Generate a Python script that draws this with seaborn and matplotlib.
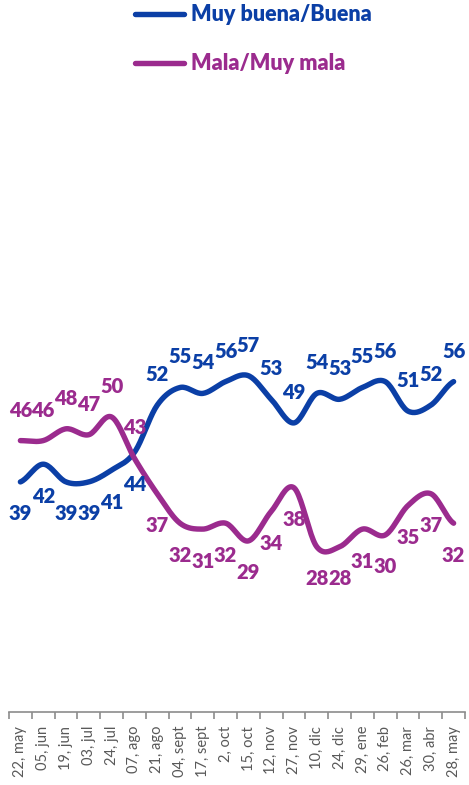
import matplotlib.pyplot as plt
import numpy as np
import pandas as pd
import seaborn as sns

fechas = ["22, may", "05, jun", "19, jun", "03, jul", "24, jul", "07, ago", "21, ago",
          "04, sept", "17, sept", "2, oct", "15, oct", "12, nov", "27, nov", "10, dic",
          "24, dic", "29, ene", "26, feb", "26, mar", "30, abr", "28, may"]
buena = [39, 42, 39, 39, 41, 44, 52, 55, 54, 56, 57, 53, 49, 54, 53, 55, 56, 51, 52, 56]
mala = [46, 46, 48, 47, 50, 43, 37, 32, 31, 32, 29, 34, 38, 28, 28, 31, 30, 35, 37, 32]

AZUL = "#0B3FA6"
MORADO = "#9B2B8E"


def suavizar(vals, n=20):
    # catmull-rom so the line looks like excel's smoothed line
    p = np.array(vals, dtype=float)
    p = np.concatenate([[p[0]], p, [p[-1]]])
    xs, ys = [], []
    for i in range(1, len(p) - 2):
        t = np.linspace(0, 1, n, endpoint=False)
        p0, p1, p2, p3 = p[i - 1], p[i], p[i + 1], p[i + 2]
        y = 0.5 * ((2 * p1) + (-p0 + p2) * t + (2 * p0 - 5 * p1 + 4 * p2 - p3) * t ** 2
                   + (-p0 + 3 * p1 - 3 * p2 + p3) * t ** 3)
        xs.extend(i - 1 + t)
        ys.extend(y)
    xs.append(len(vals) - 1)
    ys.append(vals[-1])
    return xs, ys


sns.set_theme(style="white")
plt.rcParams["font.family"] = ["Lato", "DejaVu Sans"]

fig = plt.figure(figsize=(4.69, 7.85), dpi=100)
ax = fig.add_axes([9 / 469, 73 / 785, 456 / 469, 590 / 785])

for vals, nombre, color in [(buena, "Muy buena/Buena", AZUL), (mala, "Mala/Muy mala", MORADO)]:
    xs, ys = suavizar(vals)
    df = pd.DataFrame({"x": xs, "y": ys})
    sns.lineplot(data=df, x="x", y="y", ax=ax, color=color, linewidth=3.9,
                 label=nombre, solid_capstyle="round")

# etiquetas de datos
for i, (b, m) in enumerate(zip(buena, mala)):
    arriba_b = i >= 6
    ax.annotate(str(b), (i, b), xytext=(0, 22 if arriba_b else -23), textcoords="offset points",
                ha="center", va="center", color=AZUL, fontsize=14.5, fontweight="heavy")
    ax.annotate(str(m), (i, m), xytext=(0, -23 if arriba_b else 22), textcoords="offset points",
                ha="center", va="center", color=MORADO, fontsize=14.5, fontweight="heavy")

ax.set_xlim(-0.5, len(fechas) - 0.5)
ax.set_ylim(0, 100)
ax.set_xticks(range(len(fechas)))
ax.set_xticklabels(fechas, rotation=90, fontsize=10.5, color="#595959")
ax.set_xticks(np.arange(-0.5, len(fechas), 1), minor=True)
ax.tick_params(axis="x", which="major", length=0, pad=10)
ax.tick_params(axis="x", which="minor", length=5, width=1.2, color="#8C8C8C", bottom=True)
ax.set_yticks([])
ax.set_xlabel("")
ax.set_ylabel("")
for s in ["top", "left", "right"]:
    ax.spines[s].set_visible(False)
ax.spines["bottom"].set_color("#8C8C8C")
ax.spines["bottom"].set_linewidth(1.2)

handles, labels = ax.get_legend_handles_labels()
ax.legend_.remove()
leg = fig.legend(handles, labels, loc="upper left", bbox_to_anchor=(124 / 469, 1.008),
                 frameon=False, prop={"weight": "heavy", "size": 15.5},
                 handlelength=2.3, handletextpad=0.3, labelspacing=1.3, borderpad=0)
for txt, c in zip(leg.get_texts(), [AZUL, MORADO]):
    txt.set_color(c)

fig.savefig("out.png", dpi=100)
